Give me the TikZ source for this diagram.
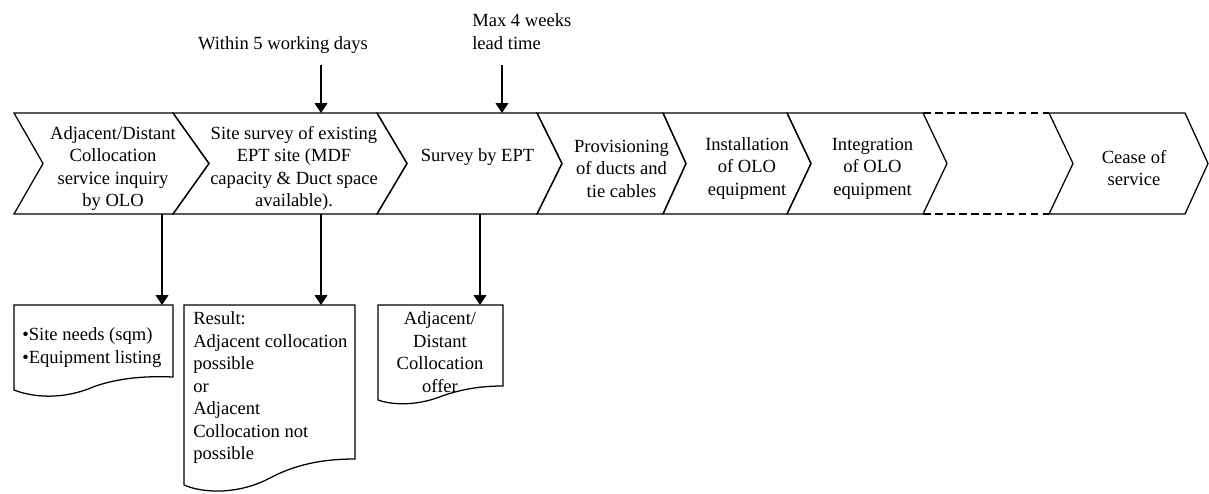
\documentclass[tikz,border=0pt]{standalone}
\usepackage{fontspec}
\setmainfont{Liberation Serif}
\usetikzlibrary{arrows.meta}
\newcommand{\fs}{\fontsize{13.2}{16}\selectfont}

\begin{document}
\begin{tikzpicture}[x=0.025cm,y=-0.025cm,
    chev/.style={line width=0.9pt},
    docbox/.style={line width=0.9pt},
    arr/.style={line width=0.9pt,-{Triangle[length=7pt,width=9pt]}},
    txt/.style={font=\fs,inner sep=0pt,align=center},
    ltxt/.style={font=\fs,inner sep=0pt,align=left,anchor=west}]
   \useasboundingbox (0,0) rectangle (1209,493);
   \foreach \xa/\da/\xb/\db in {14/29/173/36, 173/36/377/30, 377/30/537/25, 537/25/663/23,
                                663/23/787/24, 787/24/923/24, 1049/24/1185/23}
     \draw[chev] (\xa,113) -- (\xb,113) -- (\xb+\db,163.5) -- (\xb,214) -- (\xa,214) -- (\xa+\da,163.5) -- cycle;
   \draw[chev,dash pattern=on 5.5pt off 3pt] (923,113) -- (1049,113) (923,214) -- (1049,214);
   \node[txt] (c1) at (113,168.5) {Adjacent/Distant\\Collocation\\service inquiry\\by OLO};
   \node[txt] (c2) at (294,168.5) {Site survey of existing\\EPT site (MDF\\capacity \& Duct space\\available).};
   \node[txt] (c3) at (477.5,157) {Survey by EPT};
   \node[txt] (c4) at (621.5,168.5) {Provisioning\\of ducts and\\tie cables};
   \node[txt] (c5) at (747,168.5) {Installation\\of OLO\\equipment};
   \node[txt] (c6) at (872.5,168.5) {Integration\\of OLO\\equipment};
   \node[txt] (c7) at (1134,168) {Cease of\\service};
   \node[txt] (w5) at (283,45) {Within 5 working days};
   \node[ltxt] (m4) at (472,31.5) {Max 4 weeks\\lead time};
   \coordinate (w5end) at (321,65);
   \coordinate (m4end) at (502,65);
   \coordinate (c2top) at (321,113);
   \coordinate (c3top) at (502,113);
   \draw[arr] (w5end) -- (c2top);
   \draw[arr] (m4end) -- (c3top);
   \draw[docbox] (14,305) -- (173,305) -- (173,377) .. controls (150,376) and (120,377) .. (93,387)
                 .. controls (70,397) and (40,400) .. (14,390) -- cycle;
   \draw[docbox] (184,305) -- (355,305) -- (355,459) .. controls (330,459) and (300,462) .. (270,478)
                 .. controls (240,494) and (205,494) .. (184,485) -- cycle;
   \draw[docbox] (378,305) -- (503,305) -- (503,386) .. controls (485,386) and (465,388) .. (442,396)
                 .. controls (420,405) and (395,406) .. (378,400) -- cycle;
   \node[ltxt] (d1) at (22,347.5) {\textbullet Site needs (sqm)\\\textbullet Equipment listing};
   \node[ltxt] (d2) at (193,388) {Result:\\Adjacent collocation\\possible\\or\\Adjacent\\Collocation not\\possible};
   \node[txt] (d3) at (440,352) {Adjacent/\\Distant\\Collocation\\offer};
   \coordinate (c1bot) at (162,214);
   \coordinate (c2bot) at (321,214);
   \coordinate (c3bot) at (480,214);
   \coordinate (d1top) at (162,305);
   \coordinate (d2top) at (321,305);
   \coordinate (d3top) at (480,305);
   \draw[arr] (c1bot) -- (d1top);
   \draw[arr] (c2bot) -- (d2top);
   \draw[arr] (c3bot) -- (d3top);
\end{tikzpicture}
\end{document}
